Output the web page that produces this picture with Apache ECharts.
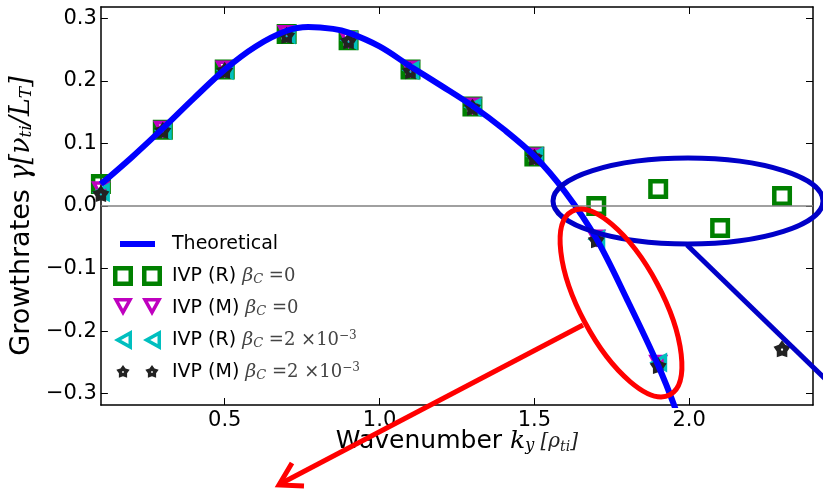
<!DOCTYPE html>
<html>
<head>
<meta charset="utf-8">
<script src="https://cdn.jsdelivr.net/npm/echarts@6/dist/echarts.min.js"></script>
<style>
html,body{margin:0;padding:0;background:#fff;}
#chart{width:823px;height:489px;}
</style>
</head>
<body>
<div id="chart"></div>
<script>
// Theoretical growth-rate curve
const kyTheory = [0.10,0.20,0.30,0.40,0.50,0.60,0.70,0.77,0.85,0.90,1.00,1.10,1.20,1.30,1.40,1.50,1.60,1.70,1.80,1.90,1.96];
const gammaTheory = [0.035,0.078,0.124,0.172,0.218,0.255,0.280,0.286,0.283,0.277,0.255,0.223,0.192,0.160,0.123,0.080,0.022,-0.052,-0.150,-0.255,-0.330];

// IVP (R), beta_C = 0
const kyRBeta0 = [0.1,0.3,0.5,0.7,0.9,1.1,1.3,1.5,1.7,1.9,2.1,2.3];
const gammaRBeta0 = [0.035,0.122,0.218,0.275,0.265,0.218,0.159,0.079,0.000,0.027,-0.035,0.016];

// IVP (M), beta_C = 0
const kyMBeta0 = [0.1,0.3,0.5,0.7,0.9,1.1,1.3,1.5,1.7,1.9];
const gammaMBeta0 = [0.025,0.122,0.218,0.275,0.265,0.218,0.159,0.079,-0.052,-0.252];

// IVP (R), beta_C = 2e-3
const kyRBetaC = [0.1,0.3,0.5,0.7,0.9,1.1,1.3,1.5,1.7,1.9];
const gammaRBetaC = [0.022,0.121,0.217,0.274,0.265,0.217,0.158,0.079,-0.053,-0.250];

// IVP (M), beta_C = 2e-3
const kyMBetaC = [0.1,0.3,0.5,0.7,0.9,1.1,1.3,1.5,1.7,1.9,2.3];
const gammaMBetaC = [0.020,0.121,0.217,0.273,0.264,0.216,0.158,0.078,-0.054,-0.255,-0.228];

// Axis ticks
const xTicks = [0.5,1.0,1.5,2.0];
const yTicks = [-0.3,-0.2,-0.1,0.0,0.1,0.2,0.3];

const seriesNames = [
  'Theoretical',
  'IVP (R) beta_C=0',
  'IVP (M) beta_C=0',
  'IVP (R) beta_C=2e-3',
  'IVP (M) beta_C=2e-3'
];

const pairs = (xs, ys) => xs.map((x, i) => [x, ys[i]]);

// marker shapes
function starPath(cx, cy, R, r) {
  let d = '';
  for (let i = 0; i < 10; i++) {
    const a = -Math.PI / 2 + i * Math.PI / 5;
    const rad = i % 2 ? r : R;
    d += (i ? 'L' : 'M') + (cx + rad * Math.cos(a)).toFixed(2) + ' ' + (cy + rad * Math.sin(a)).toFixed(2);
  }
  d += 'Z';
  // small hole in the middle
  const h = R * 0.13;
  for (let i = 0; i < 8; i++) {
    const a = -i * Math.PI / 4;
    d += (i ? 'L' : 'M') + (cx + h * Math.cos(a)).toFixed(2) + ' ' + (cy + h * Math.sin(a)).toFixed(2);
  }
  d += 'Z';
  return d;
}
function sqRing(ox) {
  return 'M' + ox + ' 0H' + (ox + 20) + 'V20H' + ox + 'Z' +
         'M' + (ox + 4.5) + ' 4.5V15.5H' + (ox + 15.5) + 'V4.5Z';
}
function downTri(ox) {
  return 'M' + ox + ' 0H' + (ox + 20) + 'L' + (ox + 10) + ' 18Z' +
         'M' + (ox + 5.95) + ' 3.5L' + (ox + 10) + ' 10.8L' + (ox + 14.05) + ' 3.5Z';
}
function leftTri(ox) {
  return 'M' + ox + ' 10L' + (ox + 18) + ' 0L' + (ox + 18) + ' 20Z' +
         'M' + (ox + 7.2) + ' 10L' + (ox + 14.5) + ' 14.05L' + (ox + 14.5) + ' 5.95Z';
}
const box = 'M0 0M54 20';

const symSquare = 'path://' + sqRing(0);
const symDown = 'path://' + downTri(0);
const symLeft = 'path://' + leftTri(0);
const symStar = 'path://' + starPath(10, 10, 10, 6.2);

const legendIcons = [
  'path://' + box + 'M7 7H42V13H7Z',
  'path://' + box + sqRing(0) + sqRing(29),
  'path://' + box + downTri(0) + downTri(29),
  'path://' + box + leftTri(1) + leftTri(30),
  'path://' + box + starPath(10, 10, 7, 4.3) + starPath(39, 10, 7, 4.3)
];

const green = '#008000', magenta = '#bf00bf', cyan = '#00bfbf', black = '#222222', blue = '#0000ff';

const legendLabels = {};
legendLabels[seriesNames[0]] = 'Theoretical';
legendLabels[seriesNames[1]] = 'IVP (R) {b|β}{s|C}{e| =0}';
legendLabels[seriesNames[2]] = 'IVP (M) {b|β}{s|C}{e| =0}';
legendLabels[seriesNames[3]] = 'IVP (R) {b|β}{s|C}{e| =2 ×10}{p|−3}';
legendLabels[seriesNames[4]] = 'IVP (M) {b|β}{s|C}{e| =2 ×10}{p|−3}';

const chart = echarts.init(document.getElementById('chart'), null, {renderer: 'canvas'});

const frame = {show: true, onZero: false, lineStyle: {color: '#000', width: 1.5}};
const tickStyle = (vals) => ({show: true, inside: true, length: 7, customValues: vals, lineStyle: {color: '#000', width: 1}});

const option = {
  animation: false,
  backgroundColor: '#fff',
  grid: {left: 100, top: 7, right: 10, bottom: 84, containLabel: false},
  xAxis: [{
    type: 'value', min: 0.1, max: 2.4, position: 'bottom',
    axisLine: frame, axisTick: tickStyle(xTicks),
    splitLine: {show: false},
    axisLabel: {customValues: xTicks, formatter: v => v.toFixed(1), fontFamily: 'DejaVu Sans', fontSize: 21, color: '#000', margin: 5},
    name: 'Wavenumber {m|k}{s|y}{m2| [ρ}{s2|ti}{m2|]}',
    nameLocation: 'middle', nameGap: 24, nameMoveOverlap: false,
    nameTextStyle: {fontFamily: 'DejaVu Sans', fontSize: 25, color: '#000',
      rich: {
        m: {fontFamily: 'DejaVu Serif', fontStyle: 'italic', fontSize: 25, color: '#000'},
        s: {fontFamily: 'DejaVu Serif', fontStyle: 'italic', fontSize: 16, color: '#000', verticalAlign: 'bottom'},
        m2: {fontFamily: 'DejaVu Serif', fontStyle: 'italic', fontSize: 20, color: '#222'},
        s2: {fontFamily: 'DejaVu Serif', fontStyle: 'italic', fontSize: 14, color: '#222', verticalAlign: 'bottom'}
      }}
  }, {
    type: 'value', min: 0.1, max: 2.4, position: 'top',
    axisLine: frame, axisTick: tickStyle(xTicks),
    splitLine: {show: false}, axisLabel: {show: false}
  }],
  yAxis: [{
    type: 'value', min: -0.318, max: 0.318, position: 'left',
    axisLine: frame, axisTick: tickStyle(yTicks),
    splitLine: {show: false},
    axisLabel: {customValues: yTicks, formatter: v => (v < 0 ? '\u2212' : '') + Math.abs(v).toFixed(1),
      fontFamily: 'DejaVu Sans', fontSize: 21, color: '#000', margin: 4},
    name: 'Growthrates {m|γ[ν}{s|ti}{m|/L}{s|T}{m|]}',
    nameLocation: 'middle', nameGap: 62, nameRotate: 90,
    nameTextStyle: {fontFamily: 'DejaVu Sans', fontSize: 27, color: '#000', padding: [0, 20, 0, 0],
      rich: {
        m: {fontFamily: 'DejaVu Serif', fontStyle: 'italic', fontSize: 27, color: '#000'},
        s: {fontFamily: 'DejaVu Serif', fontStyle: 'italic', fontSize: 17, color: '#000', verticalAlign: 'bottom'}
      }}
  }, {
    type: 'value', min: -0.318, max: 0.318, position: 'right',
    axisLine: frame, axisTick: tickStyle(yTicks),
    splitLine: {show: false}, axisLabel: {show: false}
  }],
  legend: {
    orient: 'vertical', left: 108, top: 229,
    itemWidth: 54, itemHeight: 20, itemGap: 12,
    selectedMode: false,
    formatter: name => legendLabels[name],
    textStyle: {
      fontFamily: 'DejaVu Sans', fontSize: 19, color: '#000', lineHeight: 20,
      rich: {
        b: {fontFamily: 'DejaVu Serif', fontStyle: 'italic', fontSize: 19, color: '#444', lineHeight: 20},
        s: {fontFamily: 'DejaVu Serif', fontStyle: 'italic', fontSize: 13, color: '#444', lineHeight: 14, verticalAlign: 'bottom'},
        e: {fontFamily: 'DejaVu Serif', fontSize: 18, color: '#444', lineHeight: 20},
        p: {fontFamily: 'DejaVu Serif', fontSize: 12, color: '#444', lineHeight: 12, verticalAlign: 'top'}
      }
    },
    data: [
      {name: seriesNames[0], icon: legendIcons[0], itemStyle: {color: blue, borderWidth: 0}},
      {name: seriesNames[1], icon: legendIcons[1], itemStyle: {color: green, borderWidth: 0}},
      {name: seriesNames[2], icon: legendIcons[2], itemStyle: {color: magenta, borderWidth: 0}},
      {name: seriesNames[3], icon: legendIcons[3], itemStyle: {color: cyan, borderWidth: 0}},
      {name: seriesNames[4], icon: legendIcons[4], itemStyle: {color: black, borderWidth: 0}}
    ]
  },
  series: [
    {
      // horizontal reference line at zero growth
      name: 'zero', type: 'line', data: [], silent: true,
      markLine: {silent: true, symbol: 'none', label: {show: false},
        lineStyle: {color: '#808080', width: 1.5, type: 'solid'},
        emphasis: {disabled: true},
        data: [{yAxis: 0}]}
    },
    {
      name: seriesNames[0], type: 'line', data: pairs(kyTheory, gammaTheory),
      smooth: 0.35, symbol: 'none', clip: true,
      lineStyle: {color: blue, width: 6}, itemStyle: {color: blue}
    },
    {
      name: seriesNames[1], type: 'scatter', data: pairs(kyRBeta0, gammaRBeta0),
      symbol: symSquare, symbolSize: 20, itemStyle: {color: green, opacity: 1}
    },
    {
      name: seriesNames[2], type: 'scatter', data: pairs(kyMBeta0, gammaMBeta0),
      symbol: symDown, symbolSize: [20, 18], itemStyle: {color: magenta, opacity: 1}
    },
    {
      name: seriesNames[3], type: 'scatter', data: pairs(kyRBetaC, gammaRBetaC),
      symbol: symLeft, symbolSize: [18, 20], itemStyle: {color: cyan, opacity: 1}
    },
    {
      name: seriesNames[4], type: 'scatter', data: pairs(kyMBetaC, gammaMBetaC),
      symbol: symStar, symbolSize: 17, itemStyle: {color: black, opacity: 1}
    }
  ],
  graphic: [
    // highlight around the beta_C = 0 points
    {type: 'ellipse', z: 100, shape: {cx: 688, cy: 201, rx: 135, ry: 43},
      style: {fill: 'none', stroke: '#0000c8', lineWidth: 5}},
    {type: 'line', z: 100, shape: {x1: 687, y1: 245, x2: 850, y2: 403},
      style: {stroke: '#0000c8', lineWidth: 5}},
    // highlight around the negative growth-rate points
    {type: 'ellipse', z: 101, x: 621, y: 303, rotation: 0.49, shape: {cx: 0, cy: 0, rx: 41, ry: 104},
      style: {fill: 'none', stroke: '#ff0000', lineWidth: 5}},
    {type: 'line', z: 101, shape: {x1: 583, y1: 325, x2: 280, y2: 484},
      style: {stroke: '#ff0000', lineWidth: 5}},
    {type: 'polyline', z: 101, shape: {points: [[292, 463], [279, 485], [304, 486]]},
      style: {stroke: '#ff0000', lineWidth: 5, fill: 'none', lineJoin: 'miter'}}
  ]
};

chart.setOption(option);
</script>
</body>
</html>
